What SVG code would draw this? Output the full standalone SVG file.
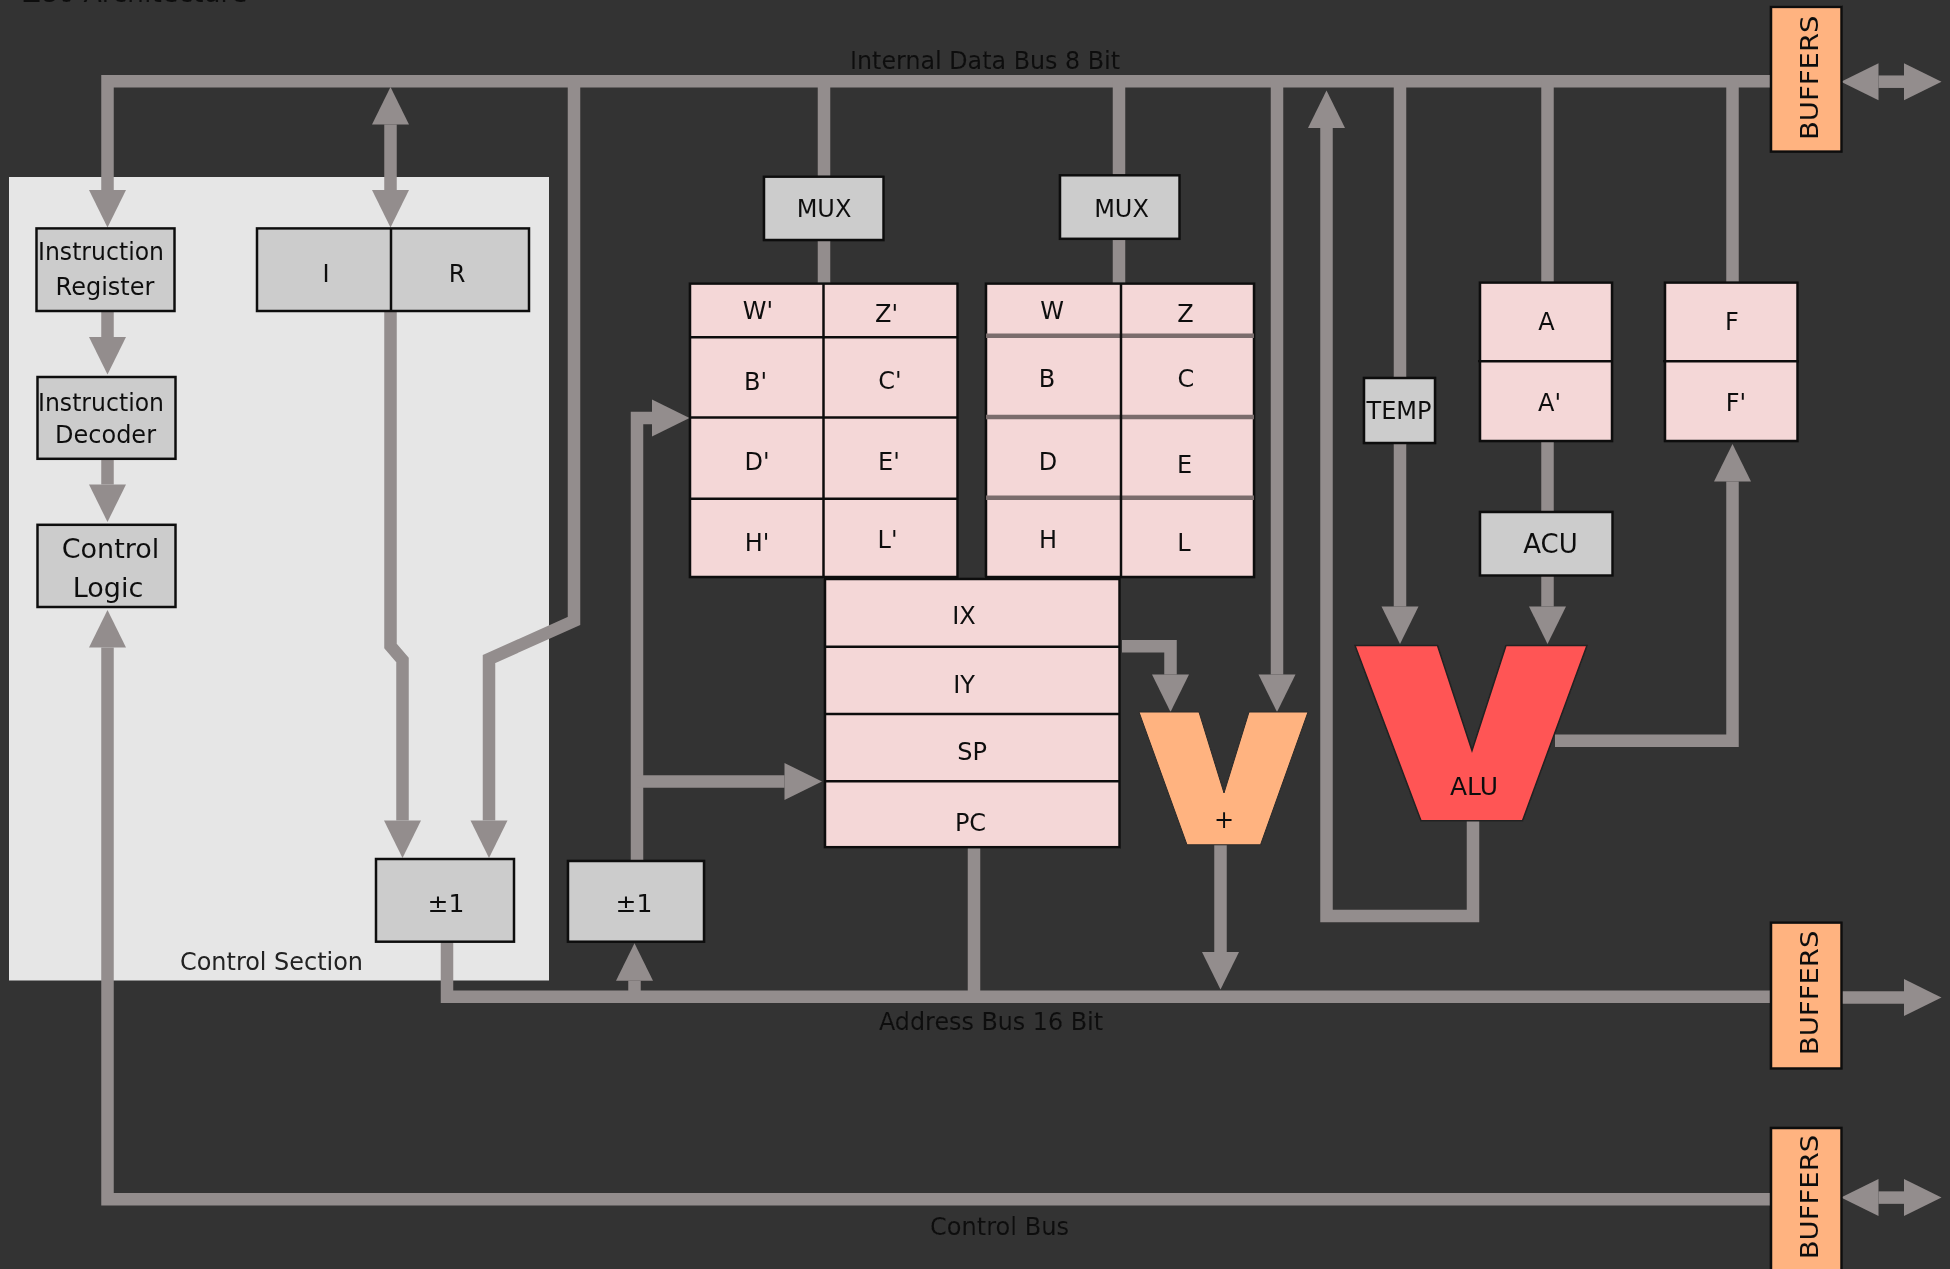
<svg xmlns="http://www.w3.org/2000/svg" width="1950" height="1269" viewBox="0 0 1950 1269">
<style>
text{font-family:"DejaVu Sans","Liberation Sans",sans-serif;font-size:24px;fill:#111;text-anchor:middle}
.bus{fill:none;stroke:#938d8d;stroke-width:12.5;stroke-linejoin:miter}
.box{fill:#ccc;stroke:#111;stroke-width:2.5}
.reg{fill:#f4d7d7;stroke:#111;stroke-width:2.5}
.buf{fill:#ffb380;stroke:#111;stroke-width:2.5}
.div{fill:none;stroke:#111;stroke-width:2.5}
.div2{fill:none;stroke:#7a6c6c;stroke-width:4.5}
.sm{font-size:25px}
</style>
<defs>
<marker id="ah" markerUnits="userSpaceOnUse" markerWidth="38" markerHeight="40" refX="0" refY="20" orient="auto-start-reverse" overflow="visible"><path d="M0,1.5 L37.5,20 L0,38.5 Z" fill="#938d8d"/></marker>
<filter id="soft" filterUnits="userSpaceOnUse" x="0" y="0" width="1950" height="1269"><feGaussianBlur stdDeviation="0.7"/></filter>
</defs>
<rect width="1950" height="1269" fill="#333"/>
<g filter="url(#soft)">
<text id="title" x="135" y="2" style="font-size:26.8px">Z80 Architecture</text>
<rect id="control-section" x="9" y="177" width="540" height="803.5" fill="#e6e6e6"/>
<g id="connectors">
<path class="bus" d="M1771,81.2 H107.5 V190" marker-end="url(#ah)"/>
<path class="bus" d="M390.5,124.5 V190" marker-start="url(#ah)" marker-end="url(#ah)"/>
<path class="bus" d="M390.5,311 V646 L402.5,660 V820.5" marker-end="url(#ah)"/>
<path class="bus" d="M574,81 V621 L489,659 V820.5" marker-end="url(#ah)"/>
<path class="bus" d="M107.5,311 V337" marker-end="url(#ah)"/>
<path class="bus" d="M107.5,459 V484.5" marker-end="url(#ah)"/>
<path class="bus" d="M1771,1199.3 H107.5 V647.5" marker-end="url(#ah)"/>
<path class="bus" d="M447,941.7 V996.7 H1771"/>
<path class="bus" d="M634.5,994 V980.7" marker-end="url(#ah)"/>
<path class="bus" d="M637,862 V418 H652" marker-end="url(#ah)"/>
<path class="bus" d="M637,781.5 H784.5" marker-end="url(#ah)"/>
<path class="bus" d="M824,81 V284"/>
<path class="bus" d="M1119,81 V284"/>
<path class="bus" d="M1277,81 V674.5" marker-end="url(#ah)"/>
<path class="bus" d="M1122,646.3 H1170.5 V674.5" marker-end="url(#ah)"/>
<path class="bus" d="M1220.5,845 V952" marker-end="url(#ah)"/>
<path class="bus" d="M974,847 V992"/>
<path class="bus" d="M1473,820.7 V916 H1326.5 V128" marker-end="url(#ah)"/>
<path class="bus" d="M1555,740.8 H1732.5 V481.5" marker-end="url(#ah)"/>
<path class="bus" d="M1400,81 V606.5" marker-end="url(#ah)"/>
<path class="bus" d="M1547.5,81 V284"/>
<path class="bus" d="M1547.5,441 V512"/>
<path class="bus" d="M1547.5,575.5 V606.5" marker-end="url(#ah)"/>
<path class="bus" d="M1732.5,81 V284"/>
<path class="bus" d="M1878.5,81.7 H1904" marker-start="url(#ah)" marker-end="url(#ah)"/>
<path class="bus" d="M1842,997.6 H1904" marker-end="url(#ah)"/>
<path class="bus" d="M1878.5,1197.6 H1904" marker-start="url(#ah)" marker-end="url(#ah)"/>
</g>
<text id="control-section-label" x="271.5" y="970.3" textLength="183" lengthAdjust="spacingAndGlyphs" style="fill:#222">Control Section</text>
<text id="data-bus-label" x="985" y="69.4" textLength="270" lengthAdjust="spacingAndGlyphs">Internal Data Bus 8 Bit</text>
<text id="address-bus-label" x="991" y="1030" textLength="224" lengthAdjust="spacingAndGlyphs">Address Bus 16 Bit</text>
<text id="control-bus-label" x="999.5" y="1234.7" textLength="139" lengthAdjust="spacingAndGlyphs">Control Bus</text>
<g id="instruction-register"><rect class="box" x="36.5" y="228.4" width="138" height="82.6"/><text x="101" y="260.4" textLength="126" lengthAdjust="spacingAndGlyphs">Instruction</text><text x="105" y="294.9">Register</text></g>
<g id="instruction-decoder"><rect class="box" x="37.5" y="377" width="138" height="81.8"/><text x="101" y="411" textLength="126" lengthAdjust="spacingAndGlyphs">Instruction</text><text x="105.5" y="443">Decoder</text></g>
<g id="control-logic"><rect class="box" x="37.5" y="524.8" width="138" height="82.2"/><text x="110.5" y="558.3" style="font-size:27px">Control</text><text x="108" y="596.7" style="font-size:27px">Logic</text></g>
<g id="ir-register"><rect class="box" x="257" y="228.4" width="272" height="82.6"/><path class="div" d="M391,228.4 V311"/><text x="326" y="281.6">I</text><text x="457" y="281.6">R</text></g>
<g id="inc-dec-1"><rect class="box" x="376" y="859" width="138" height="82.7"/><text x="446" y="912" class="sm">±1</text></g>
<g id="inc-dec-2"><rect class="box" x="568" y="861" width="136" height="80.7"/><text x="634" y="912" class="sm">±1</text></g>
<g id="mux-1"><rect class="box" x="764" y="176.7" width="119.5" height="63.3"/><text x="824" y="216.6">MUX</text></g>
<g id="mux-2"><rect class="box" x="1060" y="175.3" width="119.5" height="63.5"/><text x="1121.5" y="216.6">MUX</text></g>
<g id="alt-registers"><rect class="reg" x="690" y="283.6" width="267.5" height="293.4"/><path class="div" d="M823.5,283.6 V577 M690,337.2 H957.5 M690,417.5 H957.5 M690,498.7 H957.5"/>
<text x="758" y="319">W'</text><text x="886.5" y="322.4">Z'</text><text x="755.5" y="390">B'</text><text x="890" y="389">C'</text><text x="757" y="470">D'</text><text x="889" y="470">E'</text><text x="757" y="551">H'</text><text x="887.5" y="548.4">L'</text></g>
<g id="main-registers"><rect class="reg" x="986" y="283.6" width="268" height="293.4"/><path class="div2" d="M986,335.7 H1254 M986,417 H1254 M986,497.7 H1254"/><path class="div" d="M1121,283.6 V577"/>
<text x="1052" y="319">W</text><text x="1185.5" y="322.4">Z</text><text x="1047" y="386.5">B</text><text x="1186" y="386.5">C</text><text x="1048" y="470">D</text><text x="1184.5" y="472.6">E</text><text x="1048" y="548.4">H</text><text x="1184" y="551">L</text></g>
<g id="index-registers"><rect class="reg" x="825" y="579" width="294.5" height="268.2"/><path class="div" d="M825,646.7 H1119.5 M825,714 H1119.5 M825,781.2 H1119.5"/>
<text x="964" y="623.7">IX</text><text x="964" y="693">IY</text><text x="972" y="760.4">SP</text><text x="970.5" y="830.5">PC</text></g>
<g id="adder"><path d="M1139,712 H1199 L1224,793 L1249,712 H1308 L1260.5,844.8 H1187 Z" fill="#ffb380" stroke="#2a2a2a"/><text x="1224" y="827.6">+</text></g>
<g id="alu"><path d="M1355,645.5 H1437.5 L1472,750.6 L1506,645.5 H1587 L1522.5,820.7 H1421 Z" fill="#f55" stroke="#222" stroke-width="1.5"/><text x="1474" y="795" class="sm">ALU</text></g>
<g id="temp"><rect class="box" x="1364" y="378" width="71" height="65"/><text x="1399" y="419">TEMP</text></g>
<g id="a-registers"><rect class="reg" x="1480" y="282.6" width="132" height="158.4"/><path class="div" d="M1478,361.3 H1612"/><text x="1546.5" y="329.8">A</text><text x="1549.5" y="411">A'</text></g>
<g id="f-registers"><rect class="reg" x="1665" y="282.6" width="132.5" height="158.4"/><path class="div" d="M1663,361.3 H1799"/><text x="1732" y="329.8">F</text><text x="1736" y="410.5">F'</text></g>
<g id="acu"><rect class="box" x="1480" y="512" width="132.5" height="63.5"/><text x="1550.5" y="553.3" style="font-size:26px">ACU</text></g>
<g id="buffers-data"><rect class="buf" x="1771" y="6.9" width="70.5" height="144.7"/><text transform="translate(1818 77.8) rotate(-90)" textLength="124.5" lengthAdjust="spacingAndGlyphs">BUFFERS</text></g>
<g id="buffers-address"><rect class="buf" x="1771" y="922.6" width="70.5" height="145.9"/><text transform="translate(1818 992.9) rotate(-90)" textLength="124.5" lengthAdjust="spacingAndGlyphs">BUFFERS</text></g>
<g id="buffers-control"><rect class="buf" x="1771" y="1128" width="70.5" height="146"/><text transform="translate(1818 1197) rotate(-90)" textLength="124.5" lengthAdjust="spacingAndGlyphs">BUFFERS</text></g>
</g>
</svg>
